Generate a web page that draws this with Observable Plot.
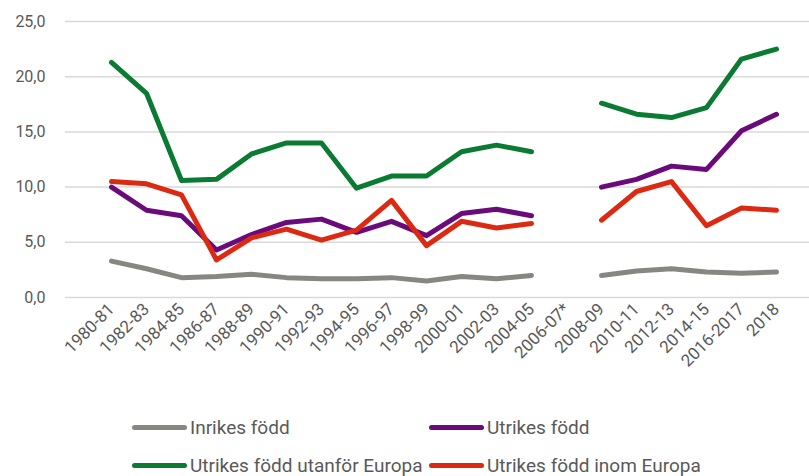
<!DOCTYPE html>
<html>
<head>
<meta charset="utf-8">
<script src="https://cdn.jsdelivr.net/npm/d3@7"></script>
<script src="https://cdn.jsdelivr.net/npm/@observablehq/plot@0.6"></script>
<style>
  html, body { margin: 0; padding: 0; background: #fff; }
  #chart { width: 809px; height: 476px; position: relative; font-family: Roboto, sans-serif; }
  .legend { position: absolute; left: 0; top: 0; width: 809px; }
  .item { position: absolute; display: flex; align-items: center; font-size: 19px; color: #595959; white-space: nowrap; }
  .sw { width: 55px; height: 5px; border-radius: 3px; margin-right: 3px; }
</style>
</head>
<body>
<div id="chart"></div>
<script>
const periods = ["1980-81","1982-83","1984-85","1986-87","1988-89","1990-91","1992-93","1994-95","1996-97","1998-99","2000-01","2002-03","2004-05","2006-07*","2008-09","2010-11","2012-13","2014-15","2016-2017","2018"];
const seriesNames = ["Inrikes född","Utrikes född","Utrikes född utanför Europa","Utrikes född inom Europa"];
const colors = ["#878782","#6b0a7a","#0b7a32","#dc2a12"];
const inrikes = [3.3,2.6,1.8,1.9,2.1,1.8,1.7,1.7,1.8,1.5,1.9,1.7,2.0,null,2.0,2.4,2.6,2.3,2.2,2.3];
const utrikes = [10.0,7.9,7.4,4.3,5.7,6.8,7.1,5.9,6.9,5.6,7.6,8.0,7.4,null,10.0,10.7,11.9,11.6,15.1,16.6];
const utanfor = [21.3,18.5,10.6,10.7,13.0,14.0,14.0,9.9,11.0,11.0,13.2,13.8,13.2,null,17.6,16.6,16.3,17.2,21.6,22.5];
const inom = [10.5,10.3,9.3,3.4,5.4,6.2,5.2,6.1,8.8,4.7,6.9,6.3,6.7,null,7.0,9.6,10.5,6.5,8.1,7.9];
const yTicks = [0,5,10,15,20,25];

const allSeries = [inrikes, utrikes, utanfor, inom];
const rows = [];
allSeries.forEach((arr, si) => arr.forEach((v, i) => rows.push({period: periods[i], value: v, series: seriesNames[si]})));

const fmt = d => d3.format(".1f")(d).replace(".", ",");

const plot = Plot.plot({
  width: 809,
  height: 390,
  marginTop: 21,
  marginLeft: 65,
  marginRight: 0,
  marginBottom: 93,
  style: { fontFamily: "Roboto, sans-serif", fontSize: "16px", color: "#595959", background: "#fff" },
  x: { type: "point", domain: periods, range: [84, 803], label: null },
  y: { domain: [0, 25], label: null },
  color: { domain: seriesNames, range: colors },
  marks: [
    Plot.ruleY(yTicks, { stroke: "#d9d9d9", strokeWidth: 1.5 }),
    Plot.axisY({ ticks: yTicks, tickFormat: fmt, tickSize: 0, tickPadding: 20, fontSize: 16, label: null }),
    Plot.axisX({ tickSize: 0, tickPadding: 9, tickRotate: -45, fontSize: 17, label: null }),
    Plot.line(rows, { x: "period", y: "value", z: "series", stroke: "series", strokeWidth: 5, strokeLinecap: "round", strokeLinejoin: "round" })
  ]
});

const chart = document.getElementById("chart");
chart.appendChild(plot);

const legend = document.createElement("div");
legend.className = "legend";
const pos = [[132, 428], [429, 428], [132, 466], [429, 466]];
seriesNames.forEach((name, i) => {
  const it = document.createElement("div");
  it.className = "item";
  it.style.left = pos[i][0] + "px";
  it.style.top = (pos[i][1] - 12) + "px";
  const sw = document.createElement("span");
  sw.className = "sw";
  sw.style.background = colors[i];
  const tx = document.createElement("span");
  tx.textContent = name;
  it.appendChild(sw);
  it.appendChild(tx);
  legend.appendChild(it);
});
chart.appendChild(legend);
</script>
</body>
</html>
